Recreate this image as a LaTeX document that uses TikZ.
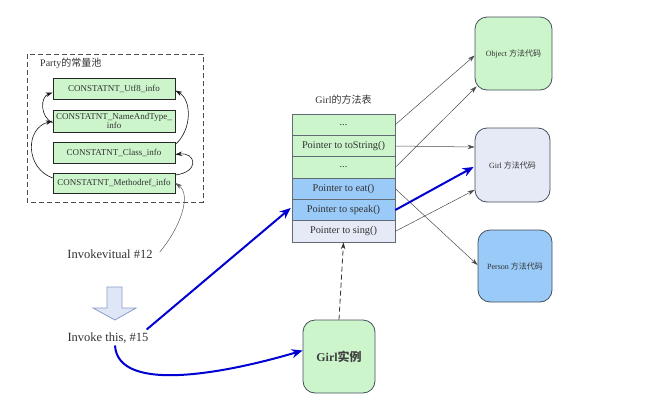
\documentclass[tikz,border=0pt]{standalone}
\usepackage{fontspec}
\setmainfont{Liberation Serif}
\newfontfamily\cjk{Noto Sans CJK SC}
\usetikzlibrary{arrows.meta}
\definecolor{pgreen}{RGB}{204,245,204}
\definecolor{pblue}{RGB}{153,202,248}
\definecolor{plight}{RGB}{230,234,246}
\definecolor{txt}{RGB}{50,50,50}
\definecolor{bordr}{RGB}{70,80,90}
\definecolor{lblue}{RGB}{0,0,210}
\definecolor{arrfill}{RGB}{223,230,246}
\definecolor{arrdraw}{RGB}{138,156,204}
\tikzset{
  pool/.style={draw=black!85, fill=pgreen, minimum width=122pt, inner sep=1pt,
    font=\fontsize{9}{9.5}\selectfont, text=txt, align=center, line width=0.6pt},
  mrow/.style={draw=bordr!85, minimum width=103pt, minimum height=21.33pt, inner sep=0pt,
    font=\fontsize{10.3}{11}\selectfont, text=txt, line width=0.6pt},
  codebox/.style={draw=bordr, rounded corners=12pt, line width=0.8pt,
    font=\fontsize{8}{9}\selectfont, text=txt, inner sep=0pt},
  link/.style={draw=black!70, line width=0.5pt, -{Stealth[length=7pt,width=4.5pt]}},
  poolarrow/.style={draw=black!90, line width=0.6pt, -{Stealth[length=7pt,width=4.5pt]}},
  bluearrow/.style={draw=lblue, line width=2pt, -{Stealth[length=11pt,width=9pt]}},
  lbl/.style={font=\fontsize{12.5}{14}\selectfont, text=txt, inner sep=0pt}
}
\begin{document}
\begin{tikzpicture}[x=1pt,y=-1pt]
\useasboundingbox (0,0) rectangle (657,408);
% constant pool
\draw[line width=1pt, draw=black!70, dash pattern=on 5pt off 3pt] (27,54) rectangle (203,202);
\node[anchor=west, font=\fontsize{10}{12}\selectfont, text=txt, inner sep=0pt] (ptitle) at (40,63) {Party{\cjk 的常量池}};
\node[pool, minimum height=21pt] (c1) at (114,88.5) {CONSTATNT\_Utf8\_info};
\node[pool, minimum height=22pt] (c2) at (114,121) {CONSTATNT\_NameAndType\_\\info};
\node[pool, minimum height=21pt] (c3) at (114,152.5) {CONSTATNT\_Class\_info};
\node[pool, minimum height=20pt] (c4) at (114,183) {CONSTATNT\_Methodref\_info};
\draw[poolarrow] ([yshift=-2pt]c2.west) .. controls (40,117) and (40,97) .. ([yshift=-4pt]c1.west);
\draw[poolarrow] ([yshift=5pt]c4.west) .. controls (25,168) and (25,128) .. (c2.west);
\draw[poolarrow] ([yshift=8pt]c3.east) .. controls (192,130) and (192,100) .. ([yshift=-2pt]c1.east);
\draw[poolarrow] ([yshift=8pt]c4.east) .. controls (200,172) and (196,152) .. ([yshift=-2pt]c3.east);
% invoke labels
\node[lbl] (inv12) at (110,254) {Invokevitual \#12};
\node[lbl] (inv15) at (108,338) {Invoke this, \#15};
\draw[link, draw=black!65] ([xshift=7pt,yshift=2pt]inv12.east) .. controls (180,228) and (192,195) .. (c4.east);
% block arrow
\draw[fill=arrfill, draw=arrdraw, line width=0.8pt] (107,287) -- (122,287) -- (122,308) -- (136,308) -- (115,320) -- (93,308) -- (107,308) -- cycle;
% method table
\node[font=\fontsize{10}{12}\selectfont, text=txt] (mtitle) at (343.5,100) {Girl{\cjk 的方法表}};
\node[mrow, fill=pgreen] (r1) at (343.5,124.67) {...};
\node[mrow, fill=pgreen] (r2) at (343.5,146) {Pointer to toString()};
\node[mrow, fill=pgreen] (r3) at (343.5,167.33) {...};
\node[mrow, fill=pblue] (r4) at (343.5,188.67) {Pointer to eat()};
\node[mrow, fill=pblue] (r5) at (343.5,210) {Pointer to speak()};
\node[mrow, fill=plight] (r6) at (343.5,231.33) {Pointer to sing()};
% code boxes
\node[codebox, fill=pgreen, minimum width=77pt, minimum height=73pt] (obj) at (513.5,53.5) {Object {\cjk 方法代码}};
\node[codebox, fill=plight, minimum width=75pt, minimum height=74pt] (gcode) at (512.5,165) {Girl {\cjk 方法代码}};
\node[codebox, fill=pblue, minimum width=74pt, minimum height=72pt] (pcode) at (515,266) {Person {\cjk 方法代码}};
\node[codebox, fill=pgreen, minimum width=72pt, minimum height=73pt, font=\fontsize{12}{14}\selectfont, text=black!75] (inst) at (339,356.5) {\bfseries Girl{\cjk 实例}};
% table links
\draw[link] (r1.east) -- ([yshift=-2pt]obj.west);
\draw[link] (r2.east) -- ([yshift=18pt]gcode.west);
\draw[link] (r3.east) -- ([xshift=2pt,yshift=4pt]obj.south west);
\draw[link] (r4.east) -- ([yshift=1pt]pcode.west);
\draw[link] (r6.east) -- ([yshift=-25pt]gcode.west);
\draw[bluearrow] (r5.east) -- ([xshift=-1pt,yshift=-2pt]gcode.west);
\draw[link, dash pattern=on 5pt off 3pt, line width=0.8pt, draw=black!80] (inst.north) -- (r6.south);
% blue arrows from invoke
\draw[bluearrow] ([xshift=-2pt,yshift=3pt]inv15.north east) -- ([xshift=-1pt,yshift=2pt]r5.west);
\draw[bluearrow] ([xshift=7pt,yshift=-2pt]inv15.south) .. controls (118,395) and (230,372) .. ([yshift=6pt]inst.west);
\end{tikzpicture}
\end{document}
